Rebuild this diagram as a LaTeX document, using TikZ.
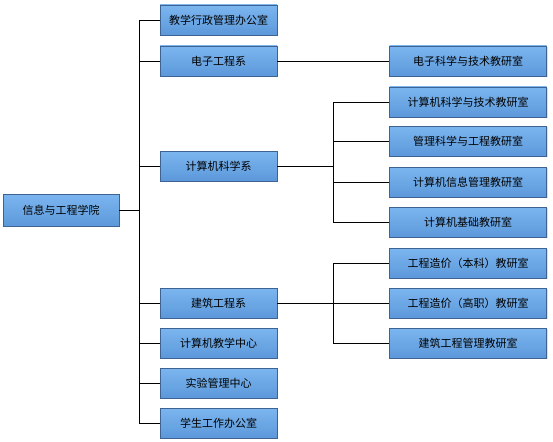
\documentclass[tikz,border=0pt]{standalone}
\usepackage{fontspec}
\newfontfamily\cjk{Noto Sans CJK SC}
\usepackage{tikz}
\usetikzlibrary{shadows}
\definecolor{boxtop}{RGB}{124,182,240}
\definecolor{boxbot}{RGB}{92,152,218}
\definecolor{boxrim}{RGB}{62,98,146}
\tikzset{
  orgnode/.style = {align=center, inner sep=0pt, text centered,
    font=\cjk\fontsize{11}{13}\selectfont, rectangle, draw=boxrim, thin,
    top color=boxtop, bottom color=boxbot,
    drop shadow={opacity=0.25, shadow xshift=1pt, shadow yshift=-1pt}},
  root_node/.style = {orgnode, minimum width=116pt, minimum height=32pt},% xueyuan
  dept_node/.style = {orgnode, minimum width=117pt, minimum height=30pt},% xi / zhongxin
  room_node/.style = {orgnode, minimum width=157pt, minimum height=30pt},% jiaoyanshi
  link/.style = {draw=black, line width=0.8pt}
}
\begin{document}
\begin{tikzpicture}[x=1pt, y=-1pt]
    \useasboundingbox (0,0) rectangle (553,441);
    % xueyuan
    \node [root_node] (xy) at (61,210) {信息与工程学院};
    % xi / zhongxin
    \node [dept_node] (xz) at (218.5,20) {教学行政管理办公室};
    \node [dept_node] (dz) at (218.5,61) {电子工程系};
    \node [dept_node] (jsj) at (218.5,166) {计算机科学系};
    \node [dept_node] (jz) at (218.5,303) {建筑工程系};
    \node [dept_node] (jx) at (218.5,343) {计算机教学中心};
    \node [dept_node] (sy) at (218.5,383) {实验管理中心};
    \node [dept_node] (xs) at (218.5,423) {学生工作办公室};
    % jiaoyanshi
    \node [room_node] (dzks) at (468,61) {电子科学与技术教研室};
    \node [room_node] (jsks) at (468,102) {计算机科学与技术教研室};
    \node [room_node] (glks) at (468,141) {管理科学与工程教研室};
    \node [room_node] (xxgl) at (468,182) {计算机信息管理教研室};
    \node [room_node] (jcjy) at (468,222) {计算机基础教研室};
    \node [room_node] (zjbk) at (468,263) {工程造价（本科）教研室};
    \node [room_node] (zjgz) at (468,303) {工程造价（高职）教研室};
    \node [room_node] (jzgl) at (468,343) {建筑工程管理教研室};
    % lianxian
    \coordinate (trunk) at (139,210);
    \coordinate (jsjbus) at (333,166);
    \coordinate (jzbus) at (333,303);
    \draw [link] (xy.east) -- (trunk);
    \foreach \n in {xz,dz,jsj,jz,jx,sy,xs}
      \draw [link] (trunk) |- (\n.west);
    \draw [link] (dz.east) -- (dzks.west);
    \draw [link] (jsj.east) -- (jsjbus);
    \foreach \n in {jsks,glks,xxgl,jcjy}
      \draw [link] (jsjbus) |- (\n.west);
    \draw [link] (jz.east) -- (jzbus);
    \foreach \n in {zjbk,zjgz,jzgl}
      \draw [link] (jzbus) |- (\n.west);
\end{tikzpicture}
\end{document}
